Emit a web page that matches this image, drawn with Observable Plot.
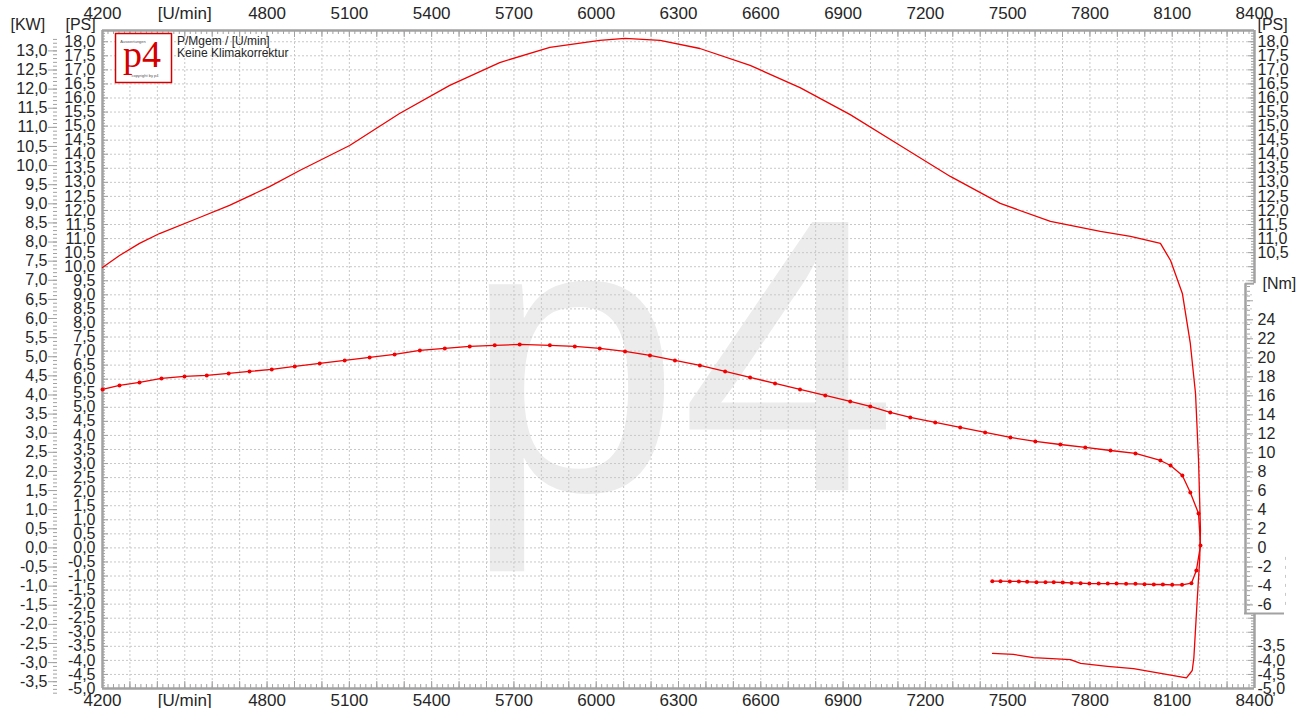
<!DOCTYPE html>
<html>
<head>
<meta charset="utf-8">
<script src="https://cdn.jsdelivr.net/npm/d3@7"></script>
<script src="https://cdn.jsdelivr.net/npm/@observablehq/plot@0.6"></script>
<style>
html,body{margin:0;padding:0;background:#fff;}
svg{display:block;}
</style>
</head>
<body>
<div id="chart"></div>
<script>
// ---------- data ----------
const rpmTicks = [4200, 4500, 4800, 5100, 5400, 5700, 6000, 6300, 6600, 6900, 7200, 7500, 7800, 8100, 8400];
const rpmTickLabels = ["4200", "[U/min]", "4800", "5100", "5400", "5700", "6000", "6300", "6600", "6900", "7200", "7500", "7800", "8100", "8400"];

// Power curve [PS] (run-up, then run-out / loss curve)
const powerRpm = [4200, 4262, 4335, 4408, 4554, 4663, 4809, 4919, 5101, 5283, 5466, 5648, 5831, 6013, 6105, 6233, 6378, 6561, 6743, 6926, 7108, 7291, 7473, 7656, 7838, 7948, 8057, 8094, 8137, 8166, 8185, 8196, 8203, 8200, 8191, 8179, 8173, 8152, 8105, 7959, 7864, 7766, 7729, 7645, 7594, 7521, 7445];
const powerPS = [9.97, 10.40, 10.83, 11.18, 11.75, 12.18, 12.85, 13.42, 14.31, 15.45, 16.45, 17.26, 17.80, 18.05, 18.12, 18.05, 17.76, 17.16, 16.37, 15.41, 14.31, 13.21, 12.25, 11.61, 11.26, 11.08, 10.83, 10.22, 9.05, 7.27, 5.49, 3.11, 0.62, -0.45, -1.87, -3.90, -4.36, -4.62, -4.54, -4.29, -4.21, -4.11, -3.97, -3.93, -3.90, -3.79, -3.75];

// Torque curve [Nm] (sampled points)
const torqueRpm = [4200, 4262, 4335, 4415, 4499, 4580, 4660, 4736, 4817, 4901, 4992, 5083, 5174, 5265, 5357, 5448, 5539, 5630, 5721, 5831, 5922, 6013, 6105, 6196, 6287, 6378, 6470, 6561, 6652, 6743, 6835, 6926, 6999, 7072, 7145, 7236, 7327, 7418, 7510, 7601, 7692, 7783, 7875, 7966, 8057, 8094, 8137, 8166, 8196, 8203, 8188,
  8170, 8136, 8100, 8066, 8033, 7999, 7966, 7932, 7897, 7865, 7832, 7798, 7766, 7733, 7701, 7668, 7638, 7605, 7571, 7541, 7508, 7474, 7444];
const torqueNm = [16.67, 17.09, 17.41, 17.83, 18.04, 18.15, 18.36, 18.57, 18.78, 19.09, 19.41, 19.73, 20.04, 20.36, 20.78, 20.99, 21.20, 21.31, 21.41, 21.31, 21.20, 20.99, 20.67, 20.25, 19.73, 19.20, 18.57, 17.94, 17.31, 16.67, 16.04, 15.41, 14.88, 14.25, 13.73, 13.20, 12.67, 12.15, 11.62, 11.20, 10.88, 10.57, 10.25, 9.94, 9.20, 8.67, 7.62, 5.83, 3.62, 0.25, -2.38,
  -3.71, -3.89, -3.89, -3.85, -3.85, -3.82, -3.78, -3.78, -3.75, -3.75, -3.75, -3.75, -3.71, -3.68, -3.64, -3.61, -3.61, -3.61, -3.57, -3.53, -3.53, -3.50, -3.50];

const psLeftTicks = d3.range(-50, 181, 5).map(v => v / 10);
const kwTicks = d3.range(-35, 131, 5).map(v => v / 10);
const psRightTicks = [18, 17.5, 17, 16.5, 16, 15.5, 15, 14.5, 14, 13.5, 13, 12.5, 12, 11.5, 11, 10.5, -3.5, -4, -4.5, -5];
const nmTicks = [24, 22, 20, 18, 16, 14, 12, 10, 8, 6, 4, 2, 0, -2, -4, -6];
const nmAxisMax = 27.8, nmAxisMin = -6.9;

const PS_PER_KW = 1.35962;        // 1 kW = 1.36 PS
const NM_TO_PS_AXIS = 0.338;      // torque axis mapped onto PS axis (0 aligned)

// ---------- helpers ----------
const labelMap = new Map(rpmTicks.map((t, i) => [t, rpmTickLabels[i]]));
const fmt1 = v => (Math.round(v * 10) / 10).toFixed(1).replace(".", ",");
const power = powerRpm.map((r, i) => ({rpm: r, ps: powerPS[i]}));
const torque = torqueRpm.map((r, i) => ({rpm: r, nm: torqueNm[i]}));

const W = 1306, H = 708, ML = 102, MR = 52, MT = 30, MB = 20;
const FW = W - ML - MR, FH = H - MT - MB;
const FONT = "'Liberation Sans', Arial, Helvetica, sans-serif";
const gridC = "#c8c8c8", frameC = "#a2a2a2", txt = "#262626", red = "#f00000";
const k = NM_TO_PS_AXIS;

const psMinor = d3.range(-49, 184, 1).map(v => v / 10);
const psMajor = d3.range(-45, 181, 5).map(v => v / 10);
const rightOk = v => v >= nmAxisMax * k + 0.05 || v <= nmAxisMin * k - 0.05;
const nmMinor = d3.range(-13, 56, 1).map(v => v / 2).filter(v => v > nmAxisMin && v < nmAxisMax);
const nmMajor = d3.range(-6, 27, 2);

const chart = Plot.plot({
  width: W, height: H,
  marginLeft: ML, marginRight: MR, marginTop: MT, marginBottom: MB,
  x: {domain: [4200, 8400], label: null},
  y: {domain: [-5, 18.4], label: null},
  style: {fontFamily: FONT, color: txt, background: "#fff", overflow: "visible"},
  marks: [
    // watermark
    Plot.text(["p4"], {frameAnchor: "middle", text: d => d, fontSize: 390, fill: "#ececec", dy: 6, dx: 2}),
    // grid
    Plot.ruleX(d3.range(4300, 8400, 100), {stroke: gridC, strokeDasharray: "2,2"}),
    Plot.ruleY(d3.range(-45, 181, 5).map(v => v / 10), {stroke: gridC, strokeDasharray: "2,2"}),
    // frame ticks (inside)
    Plot.ruleX(d3.range(4220, 8400, 20), {stroke: frameC, insetBottom: FH - 4}),
    Plot.ruleX(d3.range(4300, 8400, 100), {stroke: frameC, insetBottom: FH - 7}),
    Plot.ruleX(d3.range(4220, 8400, 20), {stroke: frameC, insetTop: FH - 4}),
    Plot.ruleX(d3.range(4300, 8400, 100), {stroke: frameC, insetTop: FH - 7}),
    Plot.ruleY(psMinor, {stroke: frameC, insetRight: FW - 3}),
    Plot.ruleY(psMajor, {stroke: frameC, insetRight: FW - 6}),
    Plot.ruleY(psMinor.filter(rightOk), {stroke: frameC, insetLeft: FW - 3}),
    Plot.ruleY(psMajor.filter(rightOk), {stroke: frameC, insetLeft: FW - 6}),
    // frame
    Plot.ruleY([18.4], {stroke: frameC, strokeWidth: 2.5}),
    Plot.ruleY([-5], {stroke: frameC, strokeWidth: 2.5}),
    Plot.ruleX([4200], {stroke: frameC, strokeWidth: 2.5}),
    Plot.ruleX([8400], {y1: nmAxisMax * k, y2: 18.4, stroke: frameC, strokeWidth: 2.5}),
    Plot.ruleX([8400], {y1: -5, y2: nmAxisMin * k, stroke: frameC, strokeWidth: 2.5}),
    // torque axis box
    Plot.ruleX([8400], {y1: nmAxisMin * k, y2: nmAxisMax * k, dx: -9, stroke: frameC, strokeWidth: 2.5}),
    Plot.ruleY([nmAxisMax * k], {insetLeft: FW - 9, stroke: frameC, strokeWidth: 2}),
    Plot.ruleY([nmAxisMin * k], {insetLeft: FW - 10, insetRight: -30, stroke: frameC, strokeWidth: 2}),
    Plot.ruleX([8400], {y1: -1.0 * k, y2: -6.3 * k, dx: 31, stroke: "#c8c8c8", strokeDasharray: "3,6"}),
    // x axes
    Plot.axisX({anchor: "top", label: null, ticks: rpmTicks, tickSize: 0, tickPadding: 12, tickFormat: d => labelMap.get(d), fontSize: 17}),
    Plot.axisX({anchor: "bottom", label: null, ticks: rpmTicks, tickSize: 0, tickPadding: 5, tickFormat: d => labelMap.get(d), fontSize: 17}),
    // left PS axis
    Plot.axisY({anchor: "left", label: null, ticks: psLeftTicks, tickSize: 0, tickPadding: 7, tickFormat: fmt1, fontSize: 16}),
    // left KW axis
    Plot.axisY({anchor: "left", label: null, ticks: kwTicks.map(v => v * PS_PER_KW), tickSize: 9, tickPadding: 1, dx: -45, stroke: frameC, tickFormat: v => fmt1(v / PS_PER_KW), fontSize: 16}),
    Plot.axisY({anchor: "left", label: null, ticks: d3.range(-38, 134, 1).map(v => v / 10 * PS_PER_KW), tickSize: 4, dx: -45, stroke: frameC, tickFormat: () => ""}),
    // right PS axis
    Plot.axisY({anchor: "right", label: null, ticks: psRightTicks, tickSize: 0, tickPadding: 3, tickFormat: fmt1, fontSize: 16}),
    // right Nm axis
    Plot.axisY({anchor: "right", label: null, ticks: nmTicks.map(v => v * k), tickSize: 0, tickPadding: 3, tickFormat: v => String(Math.round(v / k)), fontSize: 16}),
    Plot.axisY({anchor: "right", label: null, ticks: nmMinor.map(v => v * k), tickSize: 3, dx: -8, stroke: frameC, tickFormat: () => ""}),
    Plot.axisY({anchor: "right", label: null, ticks: nmMajor.map(v => v * k), tickSize: 6, dx: -8, stroke: frameC, tickFormat: () => ""}),
    // unit labels
    Plot.text(["[KW]"], {frameAnchor: "top-left", text: d => d, dx: -92, dy: -1, lineAnchor: "bottom", textAnchor: "start", fontSize: 16}),
    Plot.text(["[PS]"], {frameAnchor: "top-left", text: d => d, dx: -37, dy: -1, lineAnchor: "bottom", textAnchor: "start", fontSize: 16}),
    Plot.text(["[PS]"], {frameAnchor: "top-right", text: d => d, dx: 3, dy: -1, lineAnchor: "bottom", textAnchor: "start", fontSize: 16}),
    Plot.text([{v: nmAxisMax * k, t: "[Nm]"}], {y: "v", text: "t", frameAnchor: "right", dx: 8, textAnchor: "start", fontSize: 16}),
    // curves
    Plot.line(power, {x: "rpm", y: "ps", stroke: red, strokeWidth: 1.3}),
    Plot.line(torque, {x: "rpm", y: d => d.nm * k, stroke: red, strokeWidth: 1.3}),
    Plot.dot(torque, {x: "rpm", y: d => d.nm * k, r: 2, fill: red, stroke: "none"})
  ]
});

document.getElementById("chart").appendChild(chart);

// logo & notes (decoration)
const svg = d3.select(chart);
const g = svg.append("g").attr("text-anchor", "start");
g.append("rect").attr("x", 115.5).attr("y", 33.5).attr("width", 56).attr("height", 49)
  .attr("fill", "#fff").attr("stroke", "#d40000").attr("stroke-width", 1.5);
g.append("text").attr("x", 142).attr("y", 67).attr("text-anchor", "middle")
  .attr("font-family", "'Liberation Serif', 'Times New Roman', serif").attr("font-size", 38)
  .attr("fill", "#d40000").text("p4");
g.append("text").attr("x", 133).attr("y", 43).attr("text-anchor", "middle")
  .attr("font-family", FONT).attr("font-size", 4).attr("fill", "#555").text("Auswertungen");
g.append("text").attr("x", 145).attr("y", 77).attr("text-anchor", "middle")
  .attr("font-family", FONT).attr("font-size", 4).attr("fill", "#555").text("copyright by p4");
g.append("text").attr("x", 177).attr("y", 45).attr("text-anchor", "start").attr("font-family", FONT).attr("font-size", 12)
  .attr("fill", txt).text("P/Mgem / [U/min]");
g.append("text").attr("x", 177).attr("y", 57).attr("text-anchor", "start").attr("font-family", FONT).attr("font-size", 12)
  .attr("fill", txt).text("Keine Klimakorrektur");
</script>
</body>
</html>
